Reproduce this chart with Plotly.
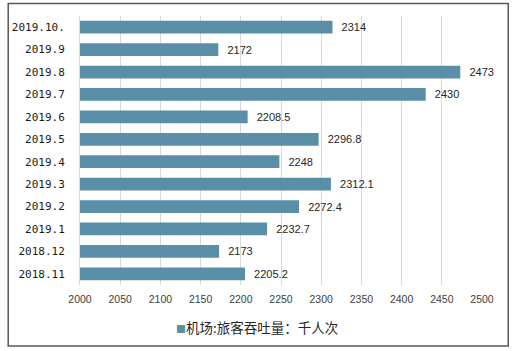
import plotly.graph_objects as go

months = ["2018.11", "2018.12", "2019.1", "2019.2", "2019.3", "2019.4",
          "2019.5", "2019.6", "2019.7", "2019.8", "2019.9", "2019.10."]
passengers = [2205.2, 2173, 2232.7, 2272.4, 2312.1, 2248,
              2296.8, 2208.5, 2430, 2473, 2172, 2314]
value_labels = ["2205.2", "2173", "2232.7", "2272.4", "2312.1", "2248",
                "2296.8", "2208.5", "2430", "2473", "2172", "2314"]
x_ticks = [2000, 2050, 2100, 2150, 2200, 2250, 2300, 2350, 2400, 2450, 2500]
series_name = "机场:旅客吞吐量：千人次"

bar_color = "#5b8fa7"

fig = go.Figure()
fig.add_trace(go.Bar(
    x=passengers, y=months, orientation="h",
    marker=dict(color=bar_color, line=dict(width=0)),
    text=["\u00a0\u00a0" + t for t in value_labels],
    textposition="outside", constraintext="none", cliponaxis=False,
    textfont=dict(family="Liberation Sans", size=11, color="#262626"),
    name=series_name, showlegend=False,
))

fig.update_layout(
    width=516, height=351,
    margin=dict(l=76, r=34, t=16, b=66),
    paper_bgcolor="white", plot_bgcolor="white",
    bargap=0.43,
    xaxis=dict(
        range=[2000, 2500], tickvals=x_ticks,
        showgrid=True, gridcolor="#d9d9d9", gridwidth=1,
        zeroline=False, showline=False,
        tickfont=dict(family="Liberation Sans", size=10.5, color="#404040"),
        ticklabelstandoff=6,
    ),
    yaxis=dict(
        type="category",
        showgrid=False, showline=True, linecolor="#d9d9d9", linewidth=1,
        tickfont=dict(family="DejaVu Sans Mono", size=11, color="#1a1a1a"),
        ticklabelstandoff=12,
    ),
    shapes=[dict(
        type="rect", xref="paper", yref="paper",
        x0=(3.5 - 76) / 406, x1=(508.5 - 76) / 406,
        y0=(285 - 346) / 269, y1=(285 - 3.5) / 269,
        line=dict(color="#595959", width=1.5), fillcolor="rgba(0,0,0,0)",
        layer="below",
    )],
    annotations=[dict(
        xref="paper", yref="paper",
        x=(171 - 76) / 406, y=(285 - 327) / 269,
        xanchor="left", yanchor="middle", showarrow=False,
        text=f"<span style='color:{bar_color};font-size:10px'>■</span>{series_name}",
        font=dict(family="Noto Sans CJK SC", size=13.5, color="#262626"),
    )],
)

fig.write_html("out.html")
